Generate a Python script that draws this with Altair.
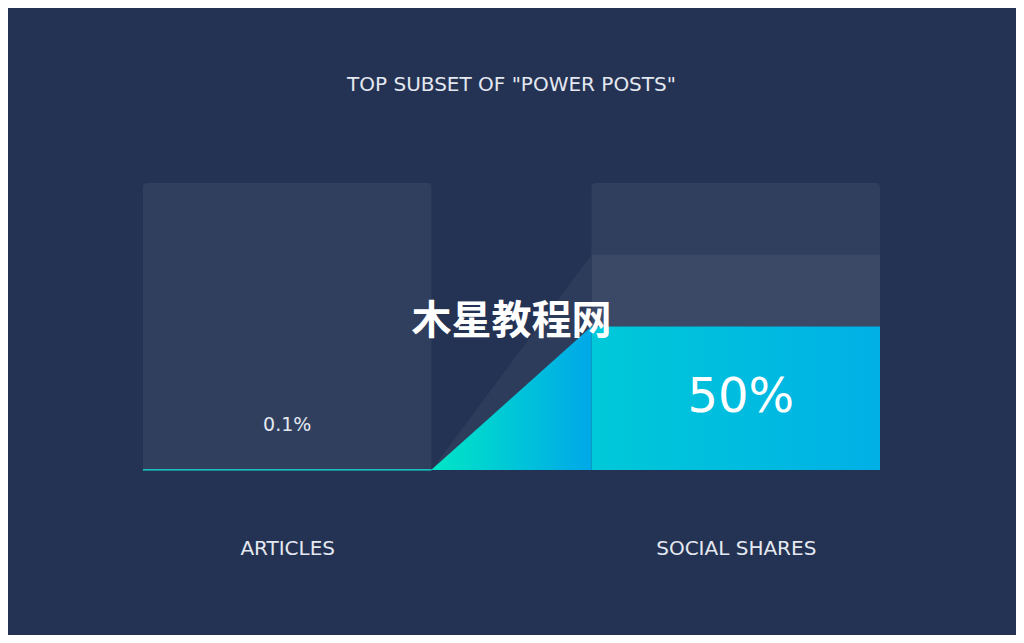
import altair as alt
import pandas as pd

# ---- data ----
categories = ["ARTICLES", "SOCIAL SHARES"]
values = [0.1, 50]              # percent of "power posts"
value_labels = ["0.1%", "50%"]
shares_band_top = 75            # lighter band in the social-shares column
title_text = 'TOP SUBSET OF "POWER POSTS"'
watermark = "木星教程网"

# ---- layout (in x-scale units) ----
bar_w = 1.0
gap = 0.555
starts = [i * (bar_w + gap) for i in range(len(categories))]
ends = [s + bar_w for s in starts]
centers = [s + bar_w / 2 for s in starts]

bg = pd.DataFrame({"x": starts, "x2": ends, "y": [0, 0], "y2": [100, 100]})
band = pd.DataFrame({"x": [starts[1]], "x2": [ends[1]], "y": [values[1]], "y2": [shares_band_top]})
conn_gray = pd.DataFrame({"x": [ends[0], starts[1]], "y": [0, shares_band_top], "y2": [0, 0]})
conn_teal = pd.DataFrame({"x": [ends[0], starts[1]], "y": [values[0], values[1]], "y2": [0, 0]})
val_art = pd.DataFrame({"x": [starts[0]], "x2": [ends[0]], "y": [0], "y2": [values[0]]})
val_soc = pd.DataFrame({"x": [starts[1]], "x2": [ends[1]], "y": [0], "y2": [values[1]]})
lab_art = pd.DataFrame({"x": [centers[0]], "y": [0], "t": [value_labels[0]]})
lab_soc = pd.DataFrame({"x": [centers[1]], "y": [values[1] / 2], "t": [value_labels[1]]})
wm = pd.DataFrame({"x": [(starts[0] + ends[1]) / 2], "y": [51.5], "t": [watermark]})

BG = "#243354"
PANEL = "#313f5e"
BAND = "#3c4966"
FONT = "DejaVu Sans"
TXT = "#e4e8f0"

label_expr = f"datum.value < {ends[0]} ? '{categories[0]}' : '{categories[1]}'"
xs = alt.Scale(domain=[0, ends[1]], nice=False, zero=False)
ys = alt.Scale(domain=[0, 100], nice=False)

X = alt.X("x:Q", scale=xs,
          axis=alt.Axis(values=centers, labelExpr=label_expr, title=None, domain=False,
                        ticks=False, grid=False, labelPadding=68, labelFontSize=20,
                        labelFont=FONT, labelColor=TXT, labelBaseline="top"))
Y = alt.Y("y:Q", scale=ys, axis=None)

grad_conn = alt.Gradient(gradient="linear", x1=0, x2=1, y1=0, y2=0,
                         stops=[alt.GradientStop(color="#00e6c6", offset=0),
                                alt.GradientStop(color="#00a8e8", offset=1)])
grad_bar = alt.Gradient(gradient="linear", x1=0, x2=1, y1=0, y2=0,
                        stops=[alt.GradientStop(color="#00c9d8", offset=0),
                               alt.GradientStop(color="#00b0e6", offset=1)])

l_bg = alt.Chart(bg).mark_rect(color=PANEL, cornerRadiusTopLeft=4, cornerRadiusTopRight=4).encode(
    x=X, x2="x2", y=Y, y2="y2")
l_band = alt.Chart(band).mark_rect(color=BAND).encode(x="x:Q", x2="x2", y="y:Q", y2="y2")
l_cg = alt.Chart(conn_gray).mark_area(color="#2e3c5b").encode(x="x:Q", y="y:Q", y2="y2")
l_ct = alt.Chart(conn_teal).mark_area(color=grad_conn).encode(x="x:Q", y="y:Q", y2="y2")
l_va = alt.Chart(val_art).mark_rect(color="#16c9c4", stroke="#16c9c4", strokeWidth=1).encode(
    x="x:Q", x2="x2", y="y:Q", y2="y2")
l_vs = alt.Chart(val_soc).mark_rect(color=grad_bar).encode(x="x:Q", x2="x2", y="y:Q", y2="y2")
l_ta = alt.Chart(lab_art).mark_text(font=FONT, fontSize=19, color=TXT, baseline="bottom", dy=-35).encode(
    x="x:Q", y="y:Q", text="t:N")
l_ts = alt.Chart(lab_soc).mark_text(font=FONT, fontSize=48, color="#ffffff", baseline="middle", dx=5).encode(
    x="x:Q", y="y:Q", text="t:N")
l_wm = alt.Chart(wm).mark_text(font="Noto Sans CJK SC", fontWeight="bold", fontSize=40, color="#ffffff",
                               baseline="middle").encode(x="x:Q", y="y:Q", text="t:N")

chart = alt.layer(l_bg, l_band, l_cg, l_ct, l_vs, l_va, l_ta, l_ts, l_wm).properties(
    width=737, height=287,
    padding={"left": 135, "top": 175, "right": 136, "bottom": 165},
    autosize=alt.AutoSizeParams(type="none"),
    background=BG,
    title=alt.TitleParams(title_text, font=FONT, fontSize=20, fontWeight="normal", color=TXT,
                          anchor="middle", offset=88),
).configure_view(stroke=None)

chart.save("out.html", embed_options={"renderer": "svg", "actions": False})
